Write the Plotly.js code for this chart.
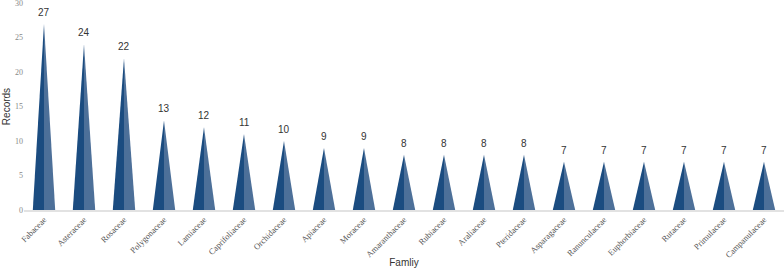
<!DOCTYPE html>
<html><head><meta charset="utf-8">
<script src="https://cdn.plot.ly/plotly-3.0.1.min.js"></script>
<style>html,body{margin:0;padding:0;background:#fff}#c{width:784px;height:268px}</style>
</head><body><div id="c"></div>
<script>
const categories = ["Fabaceae","Asteraceae","Rosaceae","Polygonaceae","Lamiaceae","Caprifoliaceae","Orchidaceae","Apiaceae","Moraceae","Amaranthaceae","Rubiaceae","Araliaceae","Pteridaceae","Asparagaceae","Ranunculaceae","Euphorbiaceae","Rutaceae","Primulaceae","Campanulaceae"];
const records = [27,24,22,13,12,11,10,9,9,8,8,8,8,7,7,7,7,7,7];
const yTicks = [0,5,10,15,20,25,30];

const half = 0.28;
const darkColor = "#1b4c80";
const lightColor = "#4d7099";
const traces = [];
records.forEach((v, i) => {
  traces.push({x:[i-half,i,i,i-half], y:[0,v,0,0], type:"scatter", mode:"lines", fill:"toself",
    fillcolor:darkColor, line:{width:0,color:darkColor}, hoverinfo:"skip", showlegend:false});
  traces.push({x:[i,i+half,i,i], y:[v,0,0,v], type:"scatter", mode:"lines", fill:"toself",
    fillcolor:lightColor, line:{width:0,color:lightColor}, hoverinfo:"skip", showlegend:false});
});
const annotations = records.map((v, i) => ({x:i, y:v, xref:"x", yref:"y", text:String(v), showarrow:false,
  yanchor:"bottom", yshift:4, font:{family:"Liberation Sans, Arial, sans-serif", size:10, color:"#333"}}));

const layout = {
  width:784, height:268,
  margin:{l:24, r:0, t:3, b:58},
  paper_bgcolor:"#fff", plot_bgcolor:"#fff",
  annotations: annotations,
  xaxis:{range:[-0.5,18.5], tickvals:categories.map((c,i)=>i), ticktext:categories, tickangle:-45,
    tickfont:{family:"Liberation Serif, Times New Roman, serif", size:8.5, color:"#555"},
    showgrid:false, zeroline:false, showline:true, linecolor:"#e2e2e2", linewidth:1.5, ticks:"",
    ticklabeloverflow:"allow",
    title:{text:"Famliy", font:{family:"Liberation Sans, Arial, sans-serif", size:10, color:"#333"}, standoff:4}},
  yaxis:{range:[0,30], tickvals:yTicks, showgrid:false, zeroline:false, showline:false, ticks:"",
    ticklabeloverflow:"allow",
    tickfont:{family:"Liberation Serif, Times New Roman, serif", size:8, color:"#888"},
    title:{text:"Records", font:{family:"Liberation Sans, Arial, sans-serif", size:10, color:"#333"}, standoff:2}},
  showlegend:false
};
Plotly.newPlot("c", traces, layout, {displayModeBar:false, staticPlot:true});
</script></body></html>
